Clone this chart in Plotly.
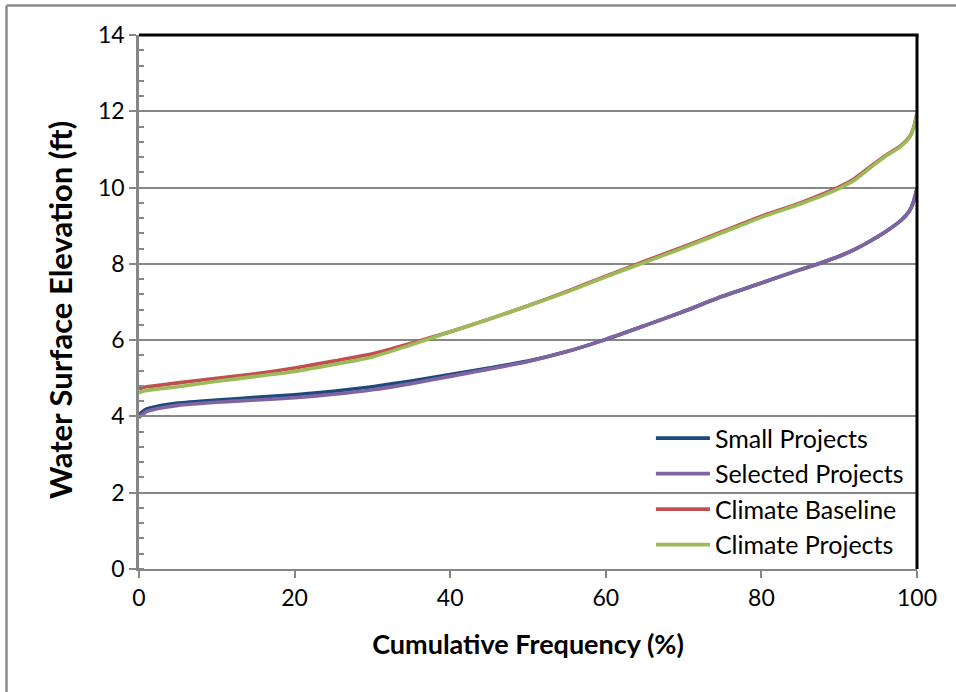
import plotly.graph_objects as go

# Cumulative frequency (%) and water surface elevation (ft) for each scenario
baseline_freq = [0, 0.5, 1, 2, 5, 10, 15, 20, 25, 30, 35, 40, 45, 50, 55, 60, 65, 70,
                 75, 80, 85, 88, 90, 92, 94, 96, 97.8, 99.1, 99.6, 100]
climate_baseline = [4.72, 4.76, 4.78, 4.80, 4.88, 5.00, 5.12, 5.27, 5.45, 5.64, 5.92, 6.22,
                    6.55, 6.90, 7.28, 7.68, 8.07, 8.45, 8.85, 9.25, 9.60, 9.84, 10.02, 10.24,
                    10.55, 10.85, 11.08, 11.35, 11.60, 11.95]
climate_projects = [4.62, 4.66, 4.68, 4.71, 4.78, 4.92, 5.05, 5.18, 5.36, 5.56, 5.88, 6.22,
                    6.55, 6.90, 7.26, 7.66, 8.04, 8.42, 8.82, 9.22, 9.57, 9.80, 9.98, 10.20,
                    10.52, 10.83, 11.06, 11.33, 11.58, 11.92]

project_freq = [0, 0.3, 0.7, 1, 2, 3, 5, 10, 15, 20, 25, 30, 35, 40, 45, 50, 55, 60, 65,
                70, 75, 80, 85, 88, 90, 92, 94, 96, 98, 99, 99.5, 100]
small_projects = [4.02, 4.10, 4.16, 4.20, 4.25, 4.29, 4.35, 4.43, 4.50, 4.57, 4.66, 4.78,
                  4.93, 5.10, 5.27, 5.45, 5.70, 6.02, 6.38, 6.75, 7.15, 7.50, 7.85, 8.05,
                  8.20, 8.38, 8.60, 8.85, 9.15, 9.38, 9.60, 9.98]
selected_projects = [3.96, 4.03, 4.09, 4.13, 4.19, 4.23, 4.29, 4.37, 4.43, 4.49, 4.58, 4.70,
                     4.86, 5.05, 5.24, 5.44, 5.70, 6.02, 6.38, 6.75, 7.15, 7.50, 7.85, 8.05,
                     8.20, 8.38, 8.60, 8.85, 9.15, 9.38, 9.60, 9.98]

x_ticks = [0, 20, 40, 60, 80, 100]
y_ticks = [0, 2, 4, 6, 8, 10, 12, 14]

FONT = "Lato"
GRAY = "#868686"

series = [
    ("Small Projects", project_freq, small_projects, "#1F497D"),
    ("Selected Projects", project_freq, selected_projects, "#8064A2"),
    ("Climate Baseline", baseline_freq, climate_baseline, "#C0504D"),
    ("Climate Projects", baseline_freq, climate_projects, "#9BBB59"),
]

fig = go.Figure()
for name, xs, ys, color in series:
    fig.add_trace(go.Scatter(
        x=xs, y=ys, name=name, mode="lines",
        line=dict(color=color, width=3.6, shape="spline", smoothing=0.6),
    ))

fig.update_layout(
    width=956, height=692,
    margin=dict(l=139, r=39, t=35, b=123),
    paper_bgcolor="white", plot_bgcolor="white",
    font=dict(family=FONT, size=23, color="black"),
    showlegend=True,
    legend=dict(
        x=0.658, y=0.003, xanchor="left", yanchor="bottom",
        bgcolor="rgba(0,0,0,0)", borderwidth=0,
        font=dict(family=FONT, size=25, color="black"),
        itemwidth=54, tracegroupgap=0,
    ),
    xaxis=dict(
        range=[0, 100], tickvals=x_ticks, ticktext=[str(v) for v in x_ticks],
        showgrid=False, zeroline=False,
        showline=True, linecolor=GRAY, linewidth=2,
        ticks="outside", ticklen=7, tickwidth=1.5, tickcolor=GRAY,
        tickfont=dict(family=FONT, size=23),
        title=dict(text="<b>Cumulative Frequency (%)</b>", standoff=26,
                   font=dict(family=FONT, size=27)),
    ),
    yaxis=dict(
        range=[0, 14], tickvals=y_ticks, ticktext=[str(v) for v in y_ticks],
        showgrid=True, gridcolor=GRAY, gridwidth=1.6, zeroline=False,
        showline=True, linecolor=GRAY, linewidth=2.5,
        ticks="outside", ticklen=7, tickwidth=1.5, tickcolor=GRAY,
        minor=dict(dtick=0.4, tick0=0, ticks="inside", ticklen=5,
                   tickwidth=1.5, tickcolor=GRAY, showgrid=False),
        tickfont=dict(family=FONT, size=23),
    ),
    annotations=[
        dict(text="<b>Water Surface Elevation (ft)</b>", textangle=-90,
             xref="paper", yref="paper", x=-0.1015, y=0.485,
             xanchor="center", yanchor="middle", showarrow=False,
             font=dict(family=FONT, size=31, color="black")),
    ],
    shapes=[
        # white backing behind the legend (above gridlines, below traces)
        dict(type="rect", xref="paper", yref="paper", x0=0.657, x1=0.9936,
             y0=0.004, y1=0.272, layer="between",
             fillcolor="white", line=dict(width=0)),
        # black plot-area frame on top and right
        dict(type="line", xref="x domain", yref="y domain", x0=0, x1=1.002, y0=1, y1=1,
             line=dict(color="black", width=3)),
        dict(type="line", xref="x domain", yref="y domain", x0=1, x1=1, y0=0, y1=1,
             line=dict(color="black", width=3)),
        # outer chart border
        dict(type="line", xref="paper", yref="paper", x0=-0.1703, x1=1.06,
             y0=1.0552, y1=1.0552, line=dict(color="#8C8C8C", width=2.5)),
        dict(type="line", xref="paper", yref="paper", x0=-0.1703, x1=-0.1703,
             y0=1.0552, y1=-0.3, line=dict(color="#8C8C8C", width=2.5)),
    ],
)

fig.write_html("out.html")
